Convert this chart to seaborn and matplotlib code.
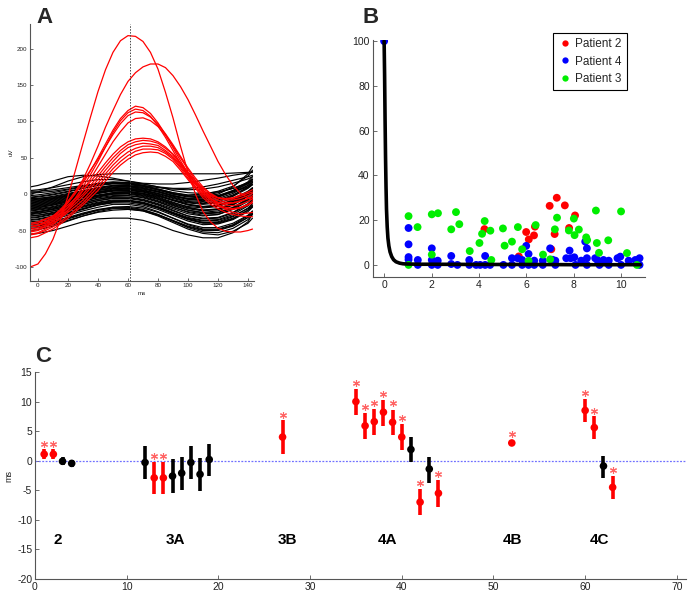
import numpy as np
import pandas as pd
import matplotlib
matplotlib.use("Agg")
import matplotlib.pyplot as plt
import seaborn as sns

# ---------------- Panel A data (waveforms, uV vs ms) ----------------
a_ms_red = [-5, 0, 5, 10, 15, 20, 25, 30, 35, 40, 45, 50, 55, 60, 65, 70, 75, 80, 85, 90,
            95, 100, 105, 110, 115, 120, 125, 130, 135, 140, 143]
a_red = [
    [-100, -96, -82, -62, -35, -3, 33, 70, 106, 141, 171, 195, 211, 218, 217, 210, 195, 172,
     140, 105, 66, 30, 0, -24, -38, -47, -51, -52, -52, -50, -48],
    [-45, -43, -40, -35, -27, -10, 4, 20, 42, 66, 92, 115, 137, 155, 167, 175, 179, 179,
     174, 163, 148, 130, 109, 87, 66, 45, 27, 12, 1, -5, -8],
    [-45, -43, -38, -32, -23, -12, 1, 15, 32, 50, 69, 88, 104, 115, 121, 119, 111, 98,
     82, 64, 46, 29, 14, 2, -6, -11, -13, -12, -9, -6, -4],
    [-50, -48, -44, -38, -29, -18, -5, 10, 27, 45, 65, 85, 101, 112, 117, 115, 107, 94,
     78, 60, 42, 25, 10, -2, -11, -17, -20, -21, -19, -15, -12],
    [-42, -40, -35, -30, -21, -10, 3, 18, 33, 48, 65, 82, 97, 108, 113, 112, 106, 96,
     83, 68, 52, 36, 22, 10, 1, -5, -7, -6, -3, 1, 3],
    [-55, -53, -48, -42, -33, -22, -9, 5, 21, 38, 55, 72, 86, 98, 104, 105, 101, 93,
     81, 66, 50, 34, 19, 6, -5, -14, -21, -25, -27, -26, -25],
    [-40, -38, -34, -30, -23, -15, -6, 5, 17, 30, 43, 55, 65, 72, 76, 77, 76, 72,
     65, 55, 42, 28, 15, 5, -2, -5, -6, -5, -1, 3, 6],
    [-45, -43, -38, -33, -26, -18, -9, 0, 12, 25, 38, 50, 60, 68, 72, 74, 73, 70,
     63, 55, 43, 30, 18, 8, 0, -5, -8, -8, -6, -2, 1],
    [-48, -46, -42, -37, -30, -22, -13, -3, 8, 20, 33, 45, 56, 64, 68, 70, 69, 67,
     60, 52, 40, 28, 16, 5, -3, -8, -11, -12, -10, -6, -2],
    [-52, -50, -45, -40, -33, -25, -17, -8, 3, 15, 28, 40, 50, 58, 63, 66, 66, 64,
     58, 50, 38, 25, 13, 3, -6, -12, -15, -16, -14, -10, -6],
    [-56, -54, -50, -45, -38, -30, -21, -12, -1, 10, 23, 35, 45, 53, 59, 62, 62, 61,
     56, 48, 36, 22, 10, 0, -8, -15, -18, -20, -18, -14, -10],
    [-60, -58, -53, -48, -41, -33, -24, -15, -5, 5, 18, 30, 40, 48, 54, 57, 58, 57,
     52, 45, 33, 20, 8, -5, -14, -20, -25, -28, -30, -31, -31],
]
a_ms_black = [-5, 0, 10, 20, 30, 40, 50, 60, 70, 80, 90, 100, 110, 120, 130, 140, 143]
a_black = [
    [10, 12, 18, 24, 26, 25, 22, 18, 15, 14, 14, 16, 19, 22, 26, 29, 30],
    [0, 3, 10, 18, 24, 27, 28, 28, 28, 28, 28, 28, 28, 28, 29, 30, 31],
    [5, 6, 9, 13, 17, 20, 20, 18, 14, 10, 8, 8, 10, 14, 19, 24, 26],
    [2, 2, 4, 7, 11, 15, 17, 16, 12, 6, 0, -3, -2, 2, 8, 15, 18],
    [-5, -4, -1, 3, 8, 12, 15, 15, 12, 7, 2, -1, 0, 4, 11, 25, 33],
    [-10, -9, -6, -2, 3, 8, 11, 11, 8, 3, -3, -7, -7, -3, 5, 17, 24],
    [-15, -14, -11, -7, -2, 3, 7, 8, 5, 0, -6, -11, -13, -10, -2, 10, 16],
    [-18, -17, -14, -9, -4, 1, 4, 4, 1, -5, -12, -17, -19, -17, -10, 2, 8],
    [-22, -21, -18, -13, -8, -3, 0, 0, -3, -9, -16, -22, -25, -23, -15, -3, 3],
    [-25, -24, -21, -17, -12, -7, -4, -4, -7, -13, -20, -27, -30, -28, -20, -8, -3],
    [-30, -29, -26, -21, -16, -11, -8, -8, -11, -17, -25, -32, -36, -35, -28, -16, -10],
    [-35, -34, -30, -25, -20, -15, -12, -12, -15, -21, -29, -37, -42, -41, -35, -24, -18],
    [-40, -39, -35, -29, -23, -18, -14, -14, -17, -24, -33, -42, -48, -48, -42, -30, -24],
    [-45, -44, -40, -34, -28, -22, -18, -18, -21, -28, -37, -46, -52, -53, -47, -35, -28],
    [-55, -54, -50, -44, -38, -34, -33, -33, -36, -42, -50, -56, -60, -60, -53, -38, -27],
    [-50, -49, -44, -37, -30, -24, -20, -20, -23, -30, -39, -48, -54, -56, -51, -40, -33],
    [-12, -11, -8, -4, 0, 5, 8, 9, 7, 3, -2, -6, -7, -4, 3, 12, 16],
    [-8, -7, -5, -1, 3, 7, 10, 11, 10, 6, 1, -3, -4, -2, 3, 10, 13],
    [-20, -19, -15, -10, -4, 1, 5, 6, 4, -1, -8, -14, -17, -15, -8, 3, 8],
    [-28, -27, -23, -18, -12, -7, -3, -2, -4, -10, -18, -25, -29, -28, -21, -10, -5],
    [-32, -31, -27, -22, -17, -12, -9, -9, -12, -18, -26, -33, -37, -36, -30, -20, -15],
    [-38, -37, -33, -27, -21, -15, -11, -10, -13, -19, -27, -35, -40, -40, -34, -22, -16],
    [-42, -41, -37, -32, -26, -21, -18, -17, -19, -25, -33, -41, -46, -46, -40, -29, -23],
    [-2, -1, 2, 6, 10, 14, 16, 16, 14, 10, 5, 2, 1, 3, 8, 16, 21],
    [-17, -16, -13, -9, -5, -1, 2, 3, 1, -3, -8, -12, -14, -12, -6, 4, 9],
    [-25, -24, -20, -14, -8, -2, 2, 3, 1, -4, -11, -18, -22, -21, -14, -2, 4],
    [-14, -13, -10, -6, -2, 2, 5, 5, 3, -2, -8, -14, -17, -16, -10, 0, 5],
    [-47, -46, -42, -36, -30, -25, -22, -21, -23, -29, -37, -45, -50, -50, -44, -32, -26],
    [4, 4, 6, 9, 12, 14, 15, 14, 12, 9, 7, 6, 7, 10, 15, 21, 24],
    [-6, -6, -4, 0, 4, 9, 12, 13, 11, 7, 2, -2, -3, 0, 10, 28, 38],
    [-11, -10, -7, -3, 1, 5, 8, 8, 6, 1, -5, -10, -12, -10, -3, 8, 13],
    [-19, -18, -15, -11, -7, -2, 1, 1, -2, -7, -14, -20, -23, -21, -13, -1, 5],
    [-23, -22, -19, -15, -10, -5, -2, -2, -5, -11, -18, -24, -27, -26, -19, -7, -1],
    [-27, -26, -23, -19, -14, -9, -6, -6, -9, -15, -23, -30, -33, -32, -25, -13, -7],
    [-33, -32, -28, -23, -18, -13, -10, -10, -13, -19, -27, -34, -39, -38, -31, -19, -13],
    [-36, -35, -31, -26, -20, -14, -10, -9, -12, -18, -26, -34, -39, -39, -33, -22, -17],
    [-16, -15, -12, -8, -3, 2, 5, 6, 3, -2, -9, -15, -18, -16, -8, 3, 8],
    [-9, -8, -6, -2, 2, 6, 9, 10, 8, 4, -2, -7, -9, -6, 1, 12, 18],
    [-4, -3, 0, 4, 8, 12, 14, 14, 11, 6, 0, -4, -5, -2, 5, 15, 20],
    [-21, -20, -17, -12, -7, -2, 1, 2, 0, -6, -13, -19, -22, -20, -12, 0, 6],
    [-30, -29, -25, -20, -14, -9, -5, -5, -8, -14, -22, -30, -34, -33, -26, -14, -8],
    [-44, -43, -39, -33, -27, -22, -19, -19, -22, -28, -36, -44, -49, -49, -43, -32, -26],
    [-13, -12, -9, -5, -1, 3, 6, 7, 5, 1, -4, -9, -10, -8, -1, 9, 14],
    [-26, -25, -21, -16, -10, -4, 0, 1, -1, -7, -15, -22, -26, -25, -18, -6, 0],
    [-7, -6, -3, 1, 5, 9, 12, 12, 9, 4, -2, -6, -7, -4, 4, 14, 20],
]
a_marker_ms = 61.5
a_xticks = [0, 20, 40, 60, 80, 100, 120, 140]
a_yticks = [-100, -50, 0, 50, 100, 150, 200]

# ---------------- Panel B data ----------------
b_curve_x = [0, 0.02, 0.04, 0.06, 0.08, 0.10, 0.13, 0.16, 0.20, 0.25, 0.32, 0.40, 0.50,
             0.65, 0.80, 1.0, 1.5, 2.0, 4.0, 6.0, 8.0, 10.0, 10.8]
b_curve_y = [100, 85, 65, 48, 35, 25, 17, 12, 8.5, 5.8, 3.7, 2.3, 1.4,
             0.8, 0.5, 0.4, 0.3, 0.3, 0.2, 0.2, 0.1, 0.1, 0.1]

p2_x = [4.23, 5.99, 6.10, 6.32, 6.36, 5.68, 6.98, 7.28, 7.62, 8.05, 7.80, 7.19, 7.05]
p2_y = [16.0, 14.7, 11.4, 13.2, 17.1, 3.8, 26.4, 30.0, 26.6, 22.1, 16.5, 13.8, 7.0]

p4_x = [0.0, 1.03, 1.03, 1.03, 1.03, 1.42, 1.42, 2.01, 2.01, 2.01, 2.26, 2.26, 2.83, 2.83,
        3.09, 3.59, 3.59, 3.88, 4.05, 4.26, 4.26, 4.47, 5.03, 5.39, 5.39, 5.63, 5.82, 5.82,
        5.99, 6.09, 6.09, 6.33, 6.33, 6.69, 6.69, 7.00, 7.10, 7.22, 7.22, 7.68, 7.82, 7.87,
        8.02, 8.07, 8.31, 8.48, 8.55, 8.55, 8.55, 8.90, 8.99, 9.08, 9.25, 9.47, 9.47, 9.84,
        9.96, 9.99, 10.31, 10.59, 10.77, 10.77]
p4_y = [100, 16.5, 9.2, 3.5, 2.4, 2.2, 0.0, 7.4, 2.2, 0.0, 1.9, 0.0, 4.0, 0.4,
        0.0, 2.2, 0.0, 0.0, 0.0, 4.0, 0.0, 0.0, 0.0, 3.0, 0.0, 3.0, 2.2, 0.0,
        8.5, 4.9, 0.0, 1.9, 0.0, 1.9, 0.0, 7.4, 2.3, 1.9, 0.0, 3.0, 6.4, 3.0,
        3.4, 0.0, 1.9, 10.4, 7.4, 3.0, 0.0, 3.0, 2.2, 0.0, 2.2, 1.9, 0.0, 3.0,
        3.7, 0.0, 1.9, 2.2, 3.0, 0.0]

p3_x = [1.03, 1.41, 2.01, 2.27, 2.83, 3.03, 3.17, 3.61, 4.02, 4.13, 4.24, 4.48, 4.52,
        5.01, 5.08, 5.39, 5.64, 5.82, 6.39, 6.70, 7.00, 7.20, 7.29, 7.79, 8.00, 8.03,
        8.21, 8.52, 8.56, 8.93, 8.97, 9.06, 9.45, 9.99, 10.24, 1.03, 2.01, 6.09, 10.66]
p3_y = [21.8, 16.9, 22.6, 23.1, 15.9, 23.6, 18.2, 6.2, 9.8, 13.9, 19.6, 15.3, 2.2,
        16.3, 8.6, 10.4, 16.9, 7.0, 17.8, 4.6, 2.5, 15.9, 21.1, 15.4, 20.7, 13.3,
        15.8, 12.3, 11.1, 24.3, 9.8, 5.4, 11.0, 23.9, 5.3, 0.0, 4.6, 1.8, 0.0]

b_xticks = [0, 2, 4, 6, 8, 10]
b_yticks = [0, 20, 40, 60, 80, 100]

# ---------------- Panel C data ----------------
c_x = [1, 2, 3, 4, 12, 13, 14, 15, 16, 17, 18, 19, 27, 35, 36, 37, 38, 39, 40, 41, 42,
       43, 44, 52, 60, 61, 62, 63]
c_mean = [1.1, 1.1, -0.1, -0.45, -0.3, -2.9, -2.9, -2.6, -2.1, -0.3, -2.3, 0.2, 4.0,
          10.0, 5.9, 6.6, 8.2, 6.5, 4.0, 1.9, -7.0, -1.4, -5.5, 3.0, 8.5, 5.6, -0.9, -4.5]
c_lo = [0.3, 0.3, -0.8, -1.1, -3.1, -5.7, -5.7, -5.4, -4.9, -3.1, -5.1, -2.6, 1.1,
        7.7, 3.7, 4.4, 5.8, 4.3, 1.8, -0.3, -9.2, -3.7, -7.8, 3.0, 6.6, 3.6, -2.9, -6.5]
c_hi = [1.9, 1.9, 0.7, 0.2, 2.5, -0.2, -0.2, 0.3, 0.7, 2.5, 0.4, 2.9, 6.8,
        12.1, 8.1, 8.7, 10.3, 8.6, 6.2, 4.0, -4.8, 0.7, -3.3, 3.0, 10.4, 7.5, 0.8, -2.6]
c_sig = [1, 1, 0, 0, 0, 1, 1, 0, 0, 0, 0, 0, 1, 1, 1, 1, 1, 1, 1, 0, 1, 0, 1, 1, 1, 1, 0, 1]
c_star = [2.9, 2.9, None, None, None, 0.8, 0.8, None, None, None, None, None, 7.8,
          13.2, 9.0, 9.7, 11.3, 9.7, 7.2, None, -3.8, None, -2.3, 4.5, 11.5, 8.4, None, -1.6]
c_groups = ["2", "3A", "3B", "4A", "4B", "4C"]
c_group_x = [2.5, 15.3, 27.5, 38.4, 52.1, 61.6]
c_group_y = -13.4
c_xticks = [0, 10, 20, 30, 40, 50, 60, 70]
c_yticks = [-20, -15, -10, -5, 0, 5, 10, 15]

# ---------------- style ----------------
sns.set_style("ticks")
plt.rcParams["font.family"] = ["Liberation Sans", "DejaVu Sans"]
plt.rcParams["xtick.direction"] = "in"
plt.rcParams["ytick.direction"] = "in"
plt.rcParams["axes.unicode_minus"] = False

SPINE = "#555555"
TXT = "#222222"

fig = plt.figure(figsize=(6.94, 6.00), dpi=100)


def style_axes(ax, fs, tick_len):
    for s in ["top", "right"]:
        ax.spines[s].set_visible(False)
    for s in ["left", "bottom"]:
        ax.spines[s].set_color(SPINE)
        ax.spines[s].set_linewidth(0.8)
    ax.tick_params(axis="both", labelsize=fs, colors=SPINE, labelcolor=TXT,
                   length=tick_len, width=0.6, pad=2)


# ---------------- Panel A ----------------
axA = fig.add_axes([30 / 694, 1 - 280.7 / 600, 224 / 694, 256.7 / 600])
rows = []
for i, curve in enumerate(a_black):
    for xv, yv in zip(a_ms_black, curve):
        rows.append(("k%d" % i, xv, yv))
dfAk = pd.DataFrame(rows, columns=["curve", "ms", "uV"])
rows = []
for i, curve in enumerate(a_red):
    for xv, yv in zip(a_ms_red, curve):
        rows.append(("r%d" % i, xv, yv))
dfAr = pd.DataFrame(rows, columns=["curve", "ms", "uV"])
sns.lineplot(data=dfAk, x="ms", y="uV", units="curve", estimator=None, color="black",
             lw=0.85, ax=axA, legend=False)
sns.lineplot(data=dfAr, x="ms", y="uV", units="curve", estimator=None, color="red",
             lw=0.9, ax=axA, legend=False)
axA.axvline(a_marker_ms, color="#444444", lw=0.7, ls=(0, (1.5, 1.5)))
axA.set_xlim(-5.3, 144)
axA.set_ylim(-119, 234)
axA.set_xticks(a_xticks)
axA.set_yticks(a_yticks)
style_axes(axA, 4.5, 2)
axA.set_xlabel("ms", fontsize=4.5, color=TXT, labelpad=2)
axA.set_ylabel("uV", fontsize=4.5, color=TXT, labelpad=1)

# ---------------- Panel B ----------------
axB = fig.add_axes([372.5 / 694, 1 - 277 / 600, 272.5 / 694, 237 / 600])
dfB = pd.DataFrame({
    "x": p2_x + p4_x + p3_x,
    "y": p2_y + p4_y + p3_y,
    "patient": ["Patient 2"] * len(p2_x) + ["Patient 4"] * len(p4_x) + ["Patient 3"] * len(p3_x),
})
pal = {"Patient 2": "#ff0000", "Patient 4": "#0000ff", "Patient 3": "#00ee00"}
sns.scatterplot(data=dfB, x="x", y="y", hue="patient", palette=pal,
                hue_order=["Patient 2", "Patient 4", "Patient 3"],
                s=32, linewidth=0, ax=axB, zorder=2)
sns.lineplot(x=b_curve_x, y=b_curve_y, sort=False, color="black", lw=2.6, ax=axB,
             zorder=3)
axB.set_xlim(-0.49, 11.0)
axB.set_ylim(-5.4, 100.5)
axB.set_xticks(b_xticks)
axB.set_yticks(b_yticks)
style_axes(axB, 7.5, 3)
axB.set_xlabel("")
axB.set_ylabel("")
handles, labels = axB.get_legend_handles_labels()
leg = axB.legend(handles, labels, loc="upper left",
                 bbox_to_anchor=(553 / 694, 1 - 33 / 600), bbox_transform=fig.transFigure,
                 borderaxespad=0, fontsize=8.5, frameon=True, fancybox=False, framealpha=1,
                 edgecolor="black", handletextpad=0.2, handlelength=1.2,
                 borderpad=0.45, labelspacing=0.45, markerscale=0.8)
leg.get_frame().set_linewidth(0.8)

# ---------------- Panel C ----------------
axC = fig.add_axes([35 / 694, 0.035, 651 / 694, 207 / 600])
dfC = pd.DataFrame({"x": c_x, "mean": c_mean, "lo": c_lo, "hi": c_hi,
                    "sig": ["sig" if s else "ns" for s in c_sig]})
col = {"sig": "#ff0000", "ns": "#000000"}
axC.axhline(0, color="#7070ff", lw=0.9, ls=(0, (1.5, 1.2)), zorder=1)
for _, r in dfC.iterrows():
    axC.vlines(r["x"], r["lo"], r["hi"], color=col[r["sig"]], lw=2.6, zorder=2)
sns.scatterplot(data=dfC, x="x", y="mean", hue="sig", palette=col, s=30,
                linewidth=0, ax=axC, legend=False, zorder=3)
sx = [x for x, s in zip(c_x, c_star) if s is not None]
sy = [s for s in c_star if s is not None]
axC.plot(sx, sy, ls="none", marker=(6, 2, 0), ms=5, mew=0.8, color="#ff3030",
         alpha=0.75, zorder=3)
for g, gx in zip(c_groups, c_group_x):
    axC.text(gx, c_group_y, g, ha="center", va="center", fontsize=11,
             fontweight="bold", color="black")
axC.set_xlim(0, 71)
axC.set_ylim(-20, 15)
axC.set_xticks(c_xticks)
axC.set_yticks(c_yticks)
style_axes(axC, 7.5, 3)
axC.set_xlabel("")
axC.set_ylabel("ms", fontsize=6.5, color=TXT, labelpad=3)

# ---------------- panel letters ----------------
fig.text(36 / 694, 1 - 23 / 600, "A", fontsize=16, fontweight="bold", va="baseline")
fig.text(363 / 694, 1 - 23 / 600, "B", fontsize=16, fontweight="bold", va="baseline")
fig.text(35 / 694, 1 - 362 / 600, "C", fontsize=16, fontweight="bold", va="baseline")

fig.savefig("out.png", dpi=100)
